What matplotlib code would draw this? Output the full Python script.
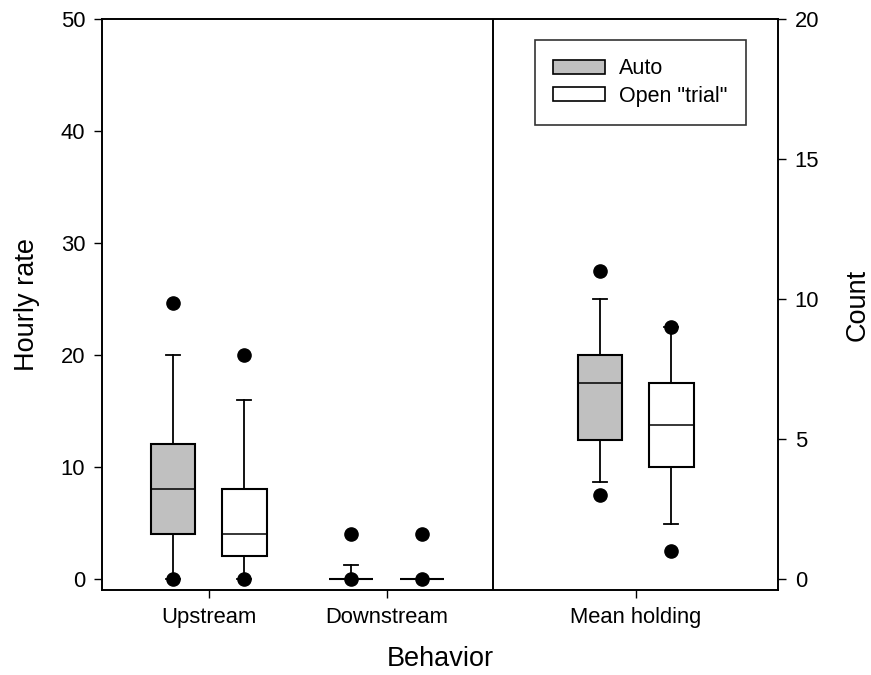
import matplotlib
matplotlib.use("Agg")
import matplotlib.pyplot as plt
from matplotlib.patches import Patch

plt.rcParams["font.family"] = ["Liberation Sans", "DejaVu Sans"]

# categories and groups
categories = ["Upstream", "Downstream", "Mean holding"]
groups = ["Auto", 'Open "trial"']
group_colors = ["#c0c0c0", "#ffffff"]

# box statistics: (whislo, q1, med, q3, whishi)
# hourly rate (left axis)
upstream_auto = (0, 4, 8, 12, 20)
upstream_open = (0, 2, 4, 8, 16)
downstream_auto = (0, 0, 0, 0, 1.2)
downstream_open = (0, 0, 0, 0, 0)
# count (right axis)
holding_auto = (3.45, 4.95, 7.0, 8.0, 10.0)
holding_open = (1.95, 4.0, 5.5, 7.0, 9.0)

# outlier points
upstream_auto_fliers = [0, 24.6]
upstream_open_fliers = [0, 20]
downstream_auto_fliers = [0, 4]
downstream_open_fliers = [0, 4]
holding_auto_fliers = [3.0, 11.0]
holding_open_fliers = [1.0, 9.0]

cat_pos = [1, 2, 3.4]
offset = 0.2
box_w = 0.25
cap_w = 0.08


def make_stats(vals, fliers):
    lo, q1, med, q3, hi = vals
    return {"whislo": lo, "q1": q1, "med": med, "q3": q3, "whishi": hi,
            "fliers": fliers}


def draw(ax, stats, positions, colors):
    bp = ax.bxp(stats, positions=positions, widths=box_w,
                capwidths=cap_w, patch_artist=True, showfliers=True,
                boxprops=dict(edgecolor="black", linewidth=1.5),
                medianprops=dict(color="black", linewidth=1.1),
                whiskerprops=dict(color="black", linewidth=1.3),
                capprops=dict(color="black", linewidth=1.3),
                flierprops=dict(marker="o", markerfacecolor="black",
                                markeredgecolor="black", markersize=9.5))
    for patch, c in zip(bp["boxes"], colors):
        patch.set_facecolor(c)
    for art in bp["medians"] + bp["fliers"]:
        art.set_zorder(3)


fig = plt.figure(figsize=(8.71, 6.75), dpi=100)
ax = fig.add_axes([102 / 871, 85 / 675, 676 / 871, 571 / 675])

left_stats = [make_stats(upstream_auto, upstream_auto_fliers),
              make_stats(upstream_open, upstream_open_fliers),
              make_stats(downstream_auto, downstream_auto_fliers),
              make_stats(downstream_open, downstream_open_fliers)]
left_pos = [cat_pos[0] - offset, cat_pos[0] + offset,
            cat_pos[1] - offset, cat_pos[1] + offset]
draw(ax, left_stats, left_pos, group_colors * 2)

ax.set_xlim(0.4, 4.2)
ax.set_ylim(-1, 50)
ax.set_yticks(range(0, 51, 10))
ax.axvline(2.6, color="black", linewidth=1.4)

ax2 = ax.twinx()
right_stats = [make_stats(holding_auto, holding_auto_fliers),
               make_stats(holding_open, holding_open_fliers)]
draw(ax2, right_stats, [cat_pos[2] - offset, cat_pos[2] + offset],
     group_colors)
ax2.set_ylim(-0.4, 20)
ax2.set_yticks(range(0, 21, 5))
ax2.set_xlim(0.4, 4.2)

for a in (ax, ax2):
    a.tick_params(direction="out", length=6, width=1, labelsize=15.8,
                  pad=6)
    for s in a.spines.values():
        s.set_linewidth(1.2)

ax.set_xticks(cat_pos)
ax.set_xticklabels(categories)

ax.set_ylabel("Hourly rate", fontsize=19.5, labelpad=15)
ax2.set_ylabel("Count", fontsize=19.5, labelpad=18)
ax.set_xlabel("Behavior", fontsize=19.5, labelpad=13)

handles = [Patch(facecolor=c, edgecolor="black", linewidth=1.2)
           for c in group_colors]
leg = ax2.legend(handles, groups, loc="upper left",
                 bbox_to_anchor=(535 / 871, 1 - 40 / 675),
                 bbox_transform=fig.transFigure, fontsize=15.5,
                 frameon=True, fancybox=False, borderpad=0.85,
                 handlelength=2.4, handleheight=0.65, handletextpad=0.65,
                 labelspacing=0.3, borderaxespad=0)
leg.get_frame().set_edgecolor("black")
leg.get_frame().set_linewidth(1.2)

fig.savefig("out.png", dpi=100)
